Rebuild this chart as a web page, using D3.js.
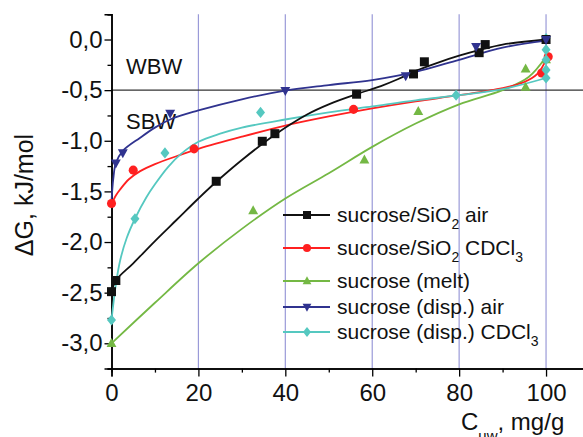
<!DOCTYPE html>
<html>
<head>
<meta charset="utf-8">
<script src="https://cdn.jsdelivr.net/npm/d3@7"></script>
<style>
  body { margin: 0; background: #fff; }
  svg { display: block; font-family: 'Liberation Sans', Arial, sans-serif; }
</style>
</head>
<body>
<svg id="chart"></svg>
<script>
// Data
var xTicks = [0, 20, 40, 60, 80, 100]
var yTicks = [0, -0.5, -1, -1.5, -2, -2.5, -3]
var gridX = [20, 40, 60, 80, 100]
var borderY = -0.5

var seriesNames = ['sucrose/SiO|2| air', 'sucrose/SiO|2| CDCl|3|', 'sucrose (melt)', 'sucrose (disp.) air', 'sucrose (disp.) CDCl|3|']
var seriesColors = ['#111111', '#ff2020', '#74b844', '#30338f', '#55c8c0']
var seriesSymbols = ['square', 'circle', 'triUp', 'triDown', 'diamond']

// measured points [C, dG]
var silicaAir = [[0, -2.49], [1, -2.38], [24.1, -1.40], [34.7, -1.005], [37.6, -0.93], [56.4, -0.54], [69.5, -0.34], [72, -0.22], [84.6, -0.13], [86, -0.05], [100, 0]]
var silicaCdcl = [[0, -1.62], [5, -1.29], [19, -1.08], [55.7, -0.69], [99, -0.33], [100.5, -0.17]]
var melt = [[0, -3.0], [32.6, -1.69], [58.2, -1.19], [70.6, -0.71], [95.3, -0.29], [95.3, -0.47], [100, -0.2]]
var dispAir = [[1.0, -1.22], [2.6, -1.12], [13.5, -0.73], [40, -0.505], [67.7, -0.36], [83.9, -0.07], [100, 0]]
var dispCdcl = [[0, -2.77], [5.4, -1.77], [12.3, -1.12], [34.3, -0.72], [79.3, -0.55], [100, 0.01], [100, -0.1], [100, -0.2], [100, -0.3], [100, -0.38]]

// fitted curves, as drawn in the picture
var silicaAirFit = [[0, -2.5], [1, -2.38], [5, -2.21], [10, -1.99], [15, -1.78], [20, -1.57], [24, -1.41], [30, -1.19], [37.6, -0.94], [45, -0.74], [50, -0.64], [56.4, -0.54], [62, -0.46], [66, -0.39], [70, -0.31], [75, -0.23], [80, -0.16], [85, -0.1], [90, -0.05], [100, 0]]
var silicaCdclFit = [[0, -1.63], [1, -1.54], [2, -1.48], [4, -1.38], [6.6, -1.3], [10, -1.23], [15.8, -1.14], [20, -1.08], [30, -0.96], [40, -0.85], [50, -0.76], [60, -0.68], [70, -0.61], [80, -0.55], [90, -0.48], [95, -0.42], [98, -0.34], [100, -0.2]]
var meltFit = [[0, -3.0], [10, -2.6], [20, -2.21], [30, -1.87], [40, -1.57], [50, -1.32], [60, -1.06], [70, -0.83], [80, -0.64], [90, -0.5], [96, -0.37], [100, -0.17]]
var dispAirFit = [[0, -1.6], [0.4, -1.38], [1, -1.22], [2.6, -1.1], [6.6, -0.97], [10, -0.87], [14, -0.78], [20, -0.7], [30, -0.59], [40, -0.505], [50, -0.45], [60, -0.4], [70, -0.32], [80, -0.2], [90, -0.08], [100, -0.01]]
var dispCdclFit = [[0, -2.77], [1, -2.42], [2, -2.18], [3.5, -1.96], [5.4, -1.77], [8, -1.56], [10, -1.43], [13, -1.26], [16, -1.13], [20, -1.01], [25, -0.93], [30, -0.87], [40, -0.79], [50, -0.72], [60, -0.66], [70, -0.6], [80, -0.55], [90, -0.49], [100, -0.38]]

var seriesPoints = [silicaAir, silicaCdcl, melt, dispAir, dispCdcl]
var seriesFits = [silicaAirFit, silicaCdclFit, meltFit, dispAirFit, dispCdclFit]

var WIDTH = 583
var HEIGHT = 437
var FONT = "'Liberation Sans', Arial, sans-serif"

var svg = d3.select('#chart')
  .attr('width', WIDTH)
  .attr('height', HEIGHT)

var x = d3.scaleLinear().domain([0, 110]).range([111.5, 589.5])
var y = d3.scaleLinear().domain([0.25, -3.25]).range([14.2, 368.6])
var comma = function (v) { return d3.format('.1f')(v).replace('.', ',').replace('−', '-') }

// blue grid verticals
svg.append('g').selectAll('line')
  .data(gridX)
  .enter().append('line')
  .attr('x1', function (d) { return x(d) })
  .attr('x2', function (d) { return x(d) })
  .attr('y1', y(0.25))
  .attr('y2', y(-3.25))
  .attr('stroke', '#9a9ad8')
  .attr('stroke-width', 1.2)

// WBW / SBW border
svg.append('line')
  .attr('x1', x(0)).attr('x2', WIDTH)
  .attr('y1', y(borderY)).attr('y2', y(borderY))
  .attr('stroke', '#333').attr('stroke-width', 1.3)

svg.append('text').attr('x', 126).attr('y', 74).attr('font-size', 22).attr('fill', '#111').text('WBW')
svg.append('text').attr('x', 126).attr('y', 129).attr('font-size', 22).attr('fill', '#111').text('SBW')

// axes
var xAxis = svg.append('g')
  .attr('transform', 'translate(0,' + y(-3.25) + ')')
  .call(d3.axisBottom(x).tickValues(xTicks).tickSize(8).tickFormat(d3.format('d')))
var xMinor = svg.append('g')
  .attr('transform', 'translate(0,' + y(-3.25) + ')')
  .call(d3.axisBottom(x).tickValues([10, 30, 50, 70, 90, 110]).tickSize(4).tickFormat(''))
var yAxis = svg.append('g')
  .attr('transform', 'translate(' + x(0) + ',0)')
  .call(d3.axisLeft(y).tickValues(yTicks).tickSize(7).tickPadding(2).tickFormat(comma))
var yMinor = svg.append('g')
  .attr('transform', 'translate(' + x(0) + ',0)')
  .call(d3.axisLeft(y).tickValues([0.25, -0.25, -0.75, -1.25, -1.75, -2.25, -2.75, -3.25]).tickSize(4).tickFormat(''))

;[xAxis, xMinor, yAxis, yMinor].forEach(function (g) {
  g.select('.domain').attr('stroke', '#000').attr('stroke-width', 1.5)
  g.selectAll('.tick line').attr('stroke', '#000').attr('stroke-width', 1.3)
  g.selectAll('.tick text').attr('font-size', 24).attr('fill', '#111').attr('font-family', FONT)
})
xAxis.selectAll('.tick text').attr('dy', '0.88em')

svg.append('text')
  .attr('transform', 'translate(33,195) rotate(-90)')
  .attr('text-anchor', 'middle')
  .attr('font-size', 25)
  .attr('fill', '#111')
  .text('ΔG, kJ/mol')

var xl = svg.append('text').attr('x', 461).attr('y', 430).attr('font-size', 24).attr('fill', '#111')
xl.append('tspan').text('C')
xl.append('tspan').attr('font-size', 15).attr('dy', 11).text('uw')
xl.append('tspan').attr('dy', -11).text(', mg/g')

// symbols
function symbolPath (kind, size) {
  var s = size
  if (kind === 'square') return 'M' + (-s / 2) + ',' + (-s / 2) + 'h' + s + 'v' + s + 'h' + (-s) + 'Z'
  if (kind === 'triUp') return 'M0,' + (-s * 0.6) + 'L' + (s * 0.55) + ',' + (s * 0.4) + 'L' + (-s * 0.55) + ',' + (s * 0.4) + 'Z'
  if (kind === 'triDown') return 'M0,' + (s * 0.6) + 'L' + (s * 0.55) + ',' + (-s * 0.4) + 'L' + (-s * 0.55) + ',' + (-s * 0.4) + 'Z'
  if (kind === 'diamond') return 'M0,' + (-s * 0.62) + 'L' + (s * 0.5) + ',0L0,' + (s * 0.62) + 'L' + (-s * 0.5) + ',0Z'
  return d3.symbol().type(d3.symbolCircle).size(s * s * 0.8)()
}

var line = d3.line()
  .x(function (d) { return x(d[0]) })
  .y(function (d) { return y(d[1]) })
  .curve(d3.curveCatmullRom.alpha(0.5))

var order = [2, 1, 4, 0, 3]
order.forEach(function (i) {
  svg.append('path')
    .datum(seriesFits[i])
    .attr('d', line)
    .attr('fill', 'none')
    .attr('stroke', seriesColors[i])
    .attr('stroke-width', 1.8)
})
order.forEach(function (i) {
  svg.append('g').selectAll('path')
    .data(seriesPoints[i])
    .enter().append('path')
    .attr('transform', function (d) { return 'translate(' + x(d[0]) + ',' + y(d[1]) + ')' })
    .attr('d', symbolPath(seriesSymbols[i], 9))
    .attr('fill', seriesColors[i])
})

// legend
var legendY = [215, 248, 281, 307, 332]
var legend = svg.append('g')
seriesNames.forEach(function (name, i) {
  var row = legend.append('g').attr('transform', 'translate(0,' + legendY[i] + ')')
  row.append('line').attr('x1', 283).attr('x2', 330)
    .attr('stroke', seriesColors[i]).attr('stroke-width', 1.8)
  row.append('path').attr('transform', 'translate(307,0)')
    .attr('d', symbolPath(seriesSymbols[i], 8)).attr('fill', seriesColors[i])
  var t = row.append('text').attr('x', 337).attr('y', 7).attr('font-size', 21).attr('fill', '#111')
  name.split('|').forEach(function (part, k) {
    if (k % 2 === 1) {
      t.append('tspan').attr('font-size', 14).attr('dy', 7).text(part)
    } else {
      t.append('tspan').attr('dy', k ? -7 : 0).text(part)
    }
  })
})
</script>
</body>
</html>
